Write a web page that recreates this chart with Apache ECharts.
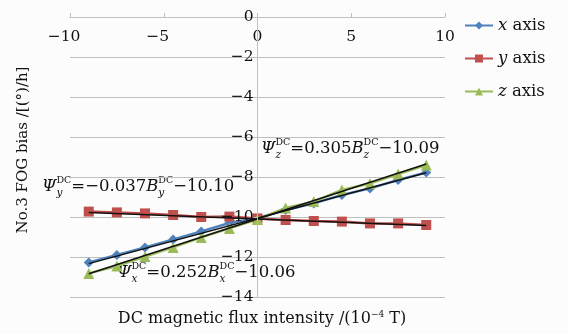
<!DOCTYPE html>
<html><head><meta charset="utf-8">
<script src="https://cdn.jsdelivr.net/npm/echarts@6/dist/echarts.min.js"></script>
<style>html,body{margin:0;padding:0;background:#fcfcfc}#c{width:568px;height:334px}</style>
</head><body><div id="c"></div>
<script>
const fieldX = [-9, -7.5, -6, -4.5, -3, -1.5, 0, 1.5, 3, 4.5, 6, 7.5, 9];
const biasX = [-12.27, -11.9, -11.52, -11.12, -10.72, -10.3, -10.06, -9.65, -9.32, -8.9, -8.57, -8.15, -7.77];
const biasY = [-9.73, -9.77, -9.82, -9.9, -10.0, -9.98, -10.07, -10.15, -10.2, -10.23, -10.32, -10.32, -10.4];
const biasZ = [-12.82, -12.45, -11.98, -11.52, -11.02, -10.57, -10.12, -9.55, -9.23, -8.65, -8.32, -7.85, -7.4];
const trendEndsX = [-9, 9];
const trendX = [-12.33, -7.79];
const trendY = [-9.77, -10.43];
const trendZ = [-12.84, -7.35];
const seriesNames = ['x axis', 'y axis', 'z axis'];
const axisLetters = ['x', 'y', 'z'];
const eqCoefs = ['0.252', '-0.037', '0.305'];
const eqConsts = ['10.06', '10.10', '10.09'];
const xTicks = [-10, -5, 0, 5, 10];
const yTicks = [0, -2, -4, -6, -8, -10, -12, -14];

const FONT = '"DejaVu Serif", serif';
const colors = ['#4f81bd', '#c0504d', '#9bbb59'];
const symbols = ['diamond', 'rect', 'triangle'];
const symSizes = [10, 10, 11];
const minus = s => String(s).replace(/-/g, '\u2212');

const GRID = {left: 70, right: 123, top: 17, bottom: 37};
const plotW = 568 - GRID.left - GRID.right;
const xMin = xTicks[0], xMax = xTicks[xTicks.length - 1];
const yMin = yTicks[yTicks.length - 1], yMax = yTicks[0];
const yAxisOffset = -plotW * (0 - xMin) / (xMax - xMin);

const ctx = document.createElement('canvas').getContext('2d');
function tw(text, size, italic) {
  ctx.font = (italic ? 'italic ' : '') + size + 'px ' + FONT;
  return ctx.measureText(text).width;
}
function buildEq(letter, coef, cst, x0, yc) {
  const big = 16.5, supS = 9.5, subS = 10.5;
  const els = [];
  let x = x0;
  function add(text, size, italic, y) {
    els.push({type: 'text', x: x, y: y, style: {text: text, font: (italic ? 'italic ' : '') + size + 'px ' + FONT, fill: '#111', verticalAlign: 'middle', align: 'left'}});
    return tw(text, size, italic);
  }
  function stack() {
    const w1 = add('DC', supS, false, yc - 6);
    const w2 = add(letter, subS, true, yc + 6);
    x += Math.max(w1, w2);
  }
  x += add('\u03A8', big, true, yc);
  stack();
  x += add('=' + minus(coef), big, false, yc);
  x += add('B', big, true, yc);
  stack();
  x += add('\u2212' + cst, big, false, yc);
  return {type: 'group', children: els};
}

const chart = echarts.init(document.getElementById('c'));
const series = [{
  name: 'gridlines', type: 'line', data: [], silent: true, z: 1,
  markLine: {
    silent: true, animation: false, z: 1, symbol: ['none', 'none'],
    label: {show: false}, emphasis: {disabled: true},
    lineStyle: {color: '#bfbfbf', width: 1, type: 'solid'},
    data: yTicks.map(v => ({yAxis: v}))
  }
}];
const dataSets = [biasX, biasY, biasZ];
for (let i = 0; i < 3; i++) {
  series.push({
    name: seriesNames[i], type: 'line',
    data: fieldX.map((v, k) => [v, dataSets[i][k]]),
    symbol: symbols[i], symbolSize: symSizes[i], showAllSymbol: true,
    lineStyle: {color: colors[i], width: 2.5},
    itemStyle: {color: colors[i]}, z: 2
  });
}
const trends = [trendX, trendY, trendZ];
for (let i = 0; i < 3; i++) {
  series.push({
    name: 'trend ' + axisLetters[i], type: 'line', silent: true,
    data: trendEndsX.map((v, k) => [v, trends[i][k]]),
    symbol: 'none', lineStyle: {color: '#111', width: 1.5}, z: 3
  });
}

chart.setOption({
  backgroundColor: '#fcfcfc',
  animation: false,
  grid: GRID,
  legend: {
    data: seriesNames, orient: 'vertical', left: 459, top: 12,
    itemWidth: 28, itemHeight: 10, itemGap: 16,
    formatter: n => '{i|' + n.charAt(0) + '} axis',
    textStyle: {fontFamily: FONT, fontSize: 16.5, color: '#111', rich: {i: {fontStyle: 'italic', fontFamily: FONT, fontSize: 16.5, color: '#111'}}}
  },
  xAxis: {
    type: 'value', min: xMin, max: xMax, interval: 5,
    position: 'top',
    axisLine: {onZero: false, lineStyle: {color: '#bfbfbf', width: 1}},
    axisTick: {show: true, inside: false, length: 4, lineStyle: {color: '#bfbfbf'}},
    axisLabel: {inside: true, margin: 12, fontFamily: FONT, fontSize: 15.5, color: '#111',
      formatter: v => v < 0 ? '{n|' + minus(v) + '}' : String(v),
      rich: {n: {fontFamily: FONT, fontSize: 15.5, color: '#111', padding: [0, 12, 0, 0]}}},
    splitLine: {show: false}
  },
  yAxis: {
    type: 'value', min: yMin, max: yMax, interval: 2,
    position: 'left', offset: yAxisOffset, z: 5,
    axisLine: {onZero: false, lineStyle: {color: '#bfbfbf', width: 1}},
    axisTick: {show: true, length: 4, lineStyle: {color: '#bfbfbf'}},
    axisLabel: {margin: 4, fontFamily: FONT, fontSize: 15.5, color: '#111', formatter: v => minus(v)},
    splitLine: {show: false}
  },
  series: series,
  graphic: [
    buildEq(axisLetters[2], eqCoefs[2], eqConsts[2], 261, 149),
    buildEq(axisLetters[1], eqCoefs[1], eqConsts[1], 42, 187),
    buildEq(axisLetters[0], eqCoefs[0], eqConsts[0], 117, 273),
    {type: 'text', x: 262, y: 319, style: {text: 'DC magnetic flux intensity /(10{s|\u22124} T)', font: '16px ' + FONT, fill: '#111', align: 'center', verticalAlign: 'middle', rich: {s: {fontSize: 9, verticalAlign: 'top', padding: [0,0,8,0], fontFamily: FONT}}}},
    {type: 'text', x: 23, y: 150, rotation: Math.PI / 2, style: {text: 'No.3 FOG bias /[(\u00B0)/h]', font: '15px ' + FONT, fill: '#111', align: 'center', verticalAlign: 'middle'}}
  ]
});
</script></body></html>
